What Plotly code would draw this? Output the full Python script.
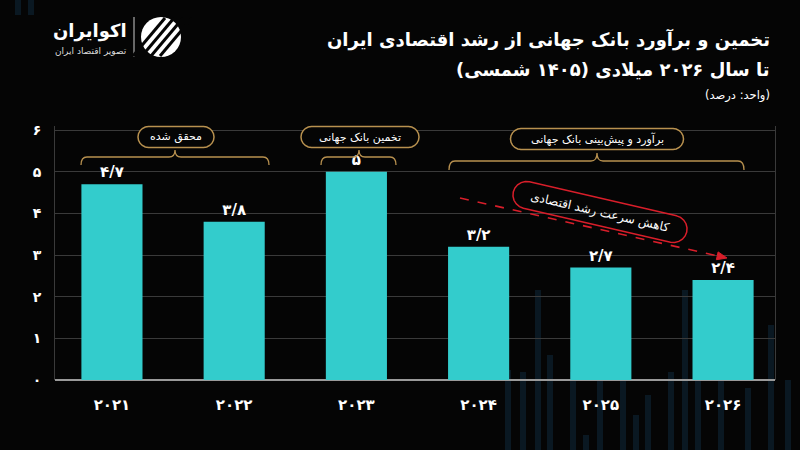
import math
import plotly.graph_objects as go

# ---------------- data ----------------
years = ["2021", "2022", "2023", "2024", "2025", "2026"]
growth = [4.7, 3.8, 5.0, 3.2, 2.7, 2.4]
y_ticks = [0, 1, 2, 3, 4, 5, 6]

title_line1 = "تخمین و برآورد بانک جهانی از رشد اقتصادی ایران"
title_line2 = "تا سال ۲۰۲۶ میلادی (۱۴۰۵ شمسی)"
unit_text = "(واحد: درصد)"
group_labels = ["محقق شده", "تخمین بانک جهانی", "برآورد و پیش‌بینی بانک جهانی"]
trend_label = "کاهش سرعت رشد اقتصادی"
logo_name = "اکوایران"
logo_tag = "تصویر اقتصاد ایران"

FA = str.maketrans("0123456789.", "۰۱۲۳۴۵۶۷۸۹/")


def fa(v):
    s = f"{v:g}"
    return s.translate(FA)


FONT = "DejaVu Sans"
BAR = "#33CCCC"
GOLD = "#B8914F"
RED = "#D81E2A"

# plot area in pixels
L, R, T, B = 55, 775, 126, 380
W, H = 800, 450


def px(x):
    return (x - L) / (R - L)


def py(y):
    return (B - y) / (B - T)


def path_from(points, close=True):
    s = "M " + " L ".join(f"{px(x):.5f},{py(y):.5f}" for x, y in points)
    return s + (" Z" if close else "")


def pill(cx, cy, w, h, angle=0.0, n=10):
    r = h / 2
    pts = []
    for i in range(n + 1):
        a = -math.pi / 2 + math.pi * i / n
        pts.append((w / 2 - r + r * math.cos(a), r * math.sin(a)))
    for i in range(n + 1):
        a = math.pi / 2 + math.pi * i / n
        pts.append((-w / 2 + r + r * math.cos(a), r * math.sin(a)))
    ca, sa = math.cos(math.radians(angle)), math.sin(math.radians(angle))
    return [(cx + x * ca - y * sa, cy + x * sa + y * ca) for x, y in pts]


def brace(x0, x1, xm, yb, yt, ytip, c=6):
    def P(x, y):
        return f"{px(x):.5f},{py(y):.5f}"
    return (f"M {P(x0, yb)} Q {P(x0, yt)} {P(x0 + c, yt)} L {P(xm - c, yt)} "
            f"Q {P(xm, yt)} {P(xm, ytip)} Q {P(xm, yt)} {P(xm + c, yt)} "
            f"L {P(x1 - c, yt)} Q {P(x1, yt)} {P(x1, yb)}")


x_cats = [fa(int(y)) for y in years]

fig = go.Figure()
fig.add_trace(go.Bar(
    x=x_cats,
    y=growth,
    marker=dict(color=BAR, line=dict(width=0)),
    width=0.5,
    text=[f"<b>{fa(v)}</b>" for v in growth],
    textposition="outside",
    textfont=dict(family=FONT, size=15, color="white"),
    cliponaxis=False,
    hoverinfo="skip",
))

shapes = []
annos = []

# faint background decoration
deco = [(505, 370), (520, 372), (535, 290), (547, 355), (570, 372), (583, 435), (597, 350),
        (620, 300), (633, 415), (645, 395), (668, 372), (682, 290), (695, 360),
        (718, 378), (745, 388), (768, 325), (785, 380), (15, -5), (28, -5)]
for x, top in deco:
    if top < 0:
        y0, y1 = 0, 15
    else:
        y0, y1 = top, 450
    shapes.append(dict(type="rect", xref="paper", yref="paper", layer="below",
                       x0=px(x), x1=px(x + 6), y0=py(y1), y1=py(y0),
                       fillcolor="#0A1822", line=dict(width=0)))

# braces + label pills
groups = [
    (81, 269, 175, 165, 157, 150, 176, 137, 76, group_labels[0]),
    (321, 396, 359, 165, 157, 150, 360, 137, 118, group_labels[1]),
    (449, 744, 597, 170, 161, 153, 597, 139, 173, group_labels[2]),
]
for x0, x1, xm, yb, yt, ytip, cx, cy, w, lab in groups:
    shapes.append(dict(type="path", xref="paper", yref="paper", path=brace(x0, x1, xm, yb, yt, ytip),
                       line=dict(color=GOLD, width=1.3)))
    shapes.append(dict(type="path", xref="paper", yref="paper", path=path_from(pill(cx, cy, w, 21)),
                       line=dict(color=GOLD, width=1.5), fillcolor="#050505"))
    annos.append(dict(xref="paper", yref="paper", x=px(cx), y=py(cy), text=lab, showarrow=False,
                      font=dict(family=FONT, size=11, color="white"), xanchor="center", yanchor="middle"))

# red trend arrow
shapes.append(dict(type="line", xref="paper", yref="paper", x0=px(460), y0=py(198), x1=px(718), y1=py(256),
                   line=dict(color=RED, width=1.6, dash="dash")))
ang = math.atan2(258 - 198, 727 - 460)
tip = (727, 258)
back = (tip[0] - 10 * math.cos(ang), tip[1] - 10 * math.sin(ang))
perp = (-math.sin(ang) * 4, math.cos(ang) * 4)
shapes.append(dict(type="path", xref="paper", yref="paper",
                   path=path_from([tip, (back[0] + perp[0], back[1] + perp[1]), (back[0] - perp[0], back[1] - perp[1])]),
                   fillcolor=RED, line=dict(color=RED, width=1)))
shapes.append(dict(type="path", xref="paper", yref="paper", path=path_from(pill(600, 212, 178, 27, 13)),
                   line=dict(color=RED, width=1.5), fillcolor="rgba(0,0,0,0)"))
annos.append(dict(xref="paper", yref="paper", x=px(600), y=py(212), text=trend_label, showarrow=False,
                  textangle=13, font=dict(family=FONT, size=12, color="white"),
                  xanchor="center", yanchor="middle"))

# titles
annos.append(dict(xref="paper", yref="paper", x=px(772), y=py(40), text=f"<b>{title_line1}</b>", showarrow=False,
                  xanchor="right", yanchor="middle", font=dict(family=FONT, size=18, color="white")))
annos.append(dict(xref="paper", yref="paper", x=px(772), y=py(70), text=f"<b>{title_line2}</b>", showarrow=False,
                  xanchor="right", yanchor="middle", font=dict(family=FONT, size=18, color="white")))
annos.append(dict(xref="paper", yref="paper", x=px(772), y=py(95), text=unit_text, showarrow=False,
                  xanchor="right", yanchor="middle", font=dict(family=FONT, size=11.5, color="white")))

# logo
annos.append(dict(xref="paper", yref="paper", x=px(129), y=py(31), text=f"<b>{logo_name}</b>", showarrow=False,
                  xanchor="right", yanchor="middle", font=dict(family=FONT, size=18, color="white")))
annos.append(dict(xref="paper", yref="paper", x=px(129), y=py(51), text=logo_tag, showarrow=False,
                  xanchor="right", yanchor="middle", font=dict(family=FONT, size=9, color="#DDDDDD")))
shapes.append(dict(type="line", xref="paper", yref="paper", x0=px(134), x1=px(134), y0=py(17), y1=py(57),
                   line=dict(color="#CCCCCC", width=1)))
shapes.append(dict(type="circle", xref="paper", yref="paper", x0=px(141), x1=px(181), y0=py(57), y1=py(17),
                   line=dict(color="white", width=0), fillcolor="white"))
for k in range(4):
    off = -13 + k * 9
    shapes.append(dict(type="line", xref="paper", yref="paper",
                       x0=px(146 + off), y0=py(56), x1=px(178 + off), y1=py(18),
                       line=dict(color="#050505", width=3)))

fig.update_layout(
    width=W, height=H,
    paper_bgcolor="#050505", plot_bgcolor="rgba(0,0,0,0)",
    margin=dict(l=L, r=W - R, t=T, b=H - B),
    showlegend=False,
    shapes=shapes,
    annotations=annos,
    xaxis=dict(range=[-0.466, 5.425], showgrid=False, showline=False, zeroline=False,
               tickvals=x_cats, ticktext=[f"<b>{c}</b>" for c in x_cats],
               tickfont=dict(family=FONT, size=15, color="white"), ticks="", ticklabelstandoff=14,
               fixedrange=True),
    yaxis=dict(range=[0, 6.1], tickvals=y_ticks, ticktext=[f"<b>{fa(v)}</b>" for v in y_ticks],
               showgrid=True, gridcolor="#3A3A3A", gridwidth=1,
               zeroline=True, zerolinecolor="#9A9A9A", zerolinewidth=2,
               showline=True, linecolor="#3A3A3A", linewidth=1, mirror=True,
               tickfont=dict(family=FONT, size=14, color="white"), ticks="", ticklabelstandoff=10,
               fixedrange=True),
)

fig.write_html("out.html", config={"displayModeBar": False},
               post_script="document.body.style.margin='0';document.body.style.background='#050505';")
